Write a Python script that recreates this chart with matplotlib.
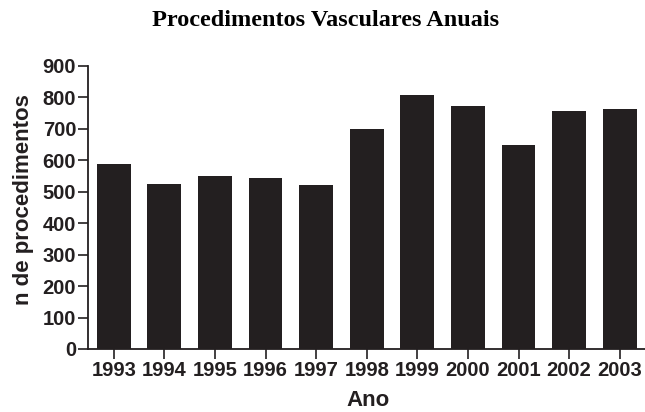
import matplotlib.pyplot as plt

anos = ["1993", "1994", "1995", "1996", "1997", "1998", "1999", "2000", "2001", "2002", "2003"]
procedimentos = [589, 524, 549, 543, 520, 701, 807, 773, 649, 757, 762]

fig = plt.figure(figsize=(6.45, 4.12), dpi=100)
# eixo y em x=88px, eixo x em y=349px, topo (900) em y=66px
ax = fig.add_axes([88 / 645, 1 - 349 / 412, 1 - 88 / 645, 283 / 412])

ax.bar(range(len(anos)), procedimentos, width=0.67, color="#231f20")

ax.set_xlim(-0.508, 10.5)
ax.set_ylim(0, 900)
ax.set_yticks(range(0, 901, 100))
ax.set_xticks(range(len(anos)))
ax.set_xticklabels(anos)

for s in ["top", "right"]:
    ax.spines[s].set_visible(False)
for s in ["left", "bottom"]:
    ax.spines[s].set_linewidth(1.3)
    ax.spines[s].set_color("#231f20")

ax.tick_params(axis="both", direction="out", length=7, width=1.2, color="#231f20")
ax.tick_params(axis="x", pad=2)
ax.tick_params(axis="y", pad=1.5)
for lab in ax.get_xticklabels() + ax.get_yticklabels():
    lab.set_family("Liberation Sans")
    lab.set_fontweight("bold")
    lab.set_fontsize(14.5)
    lab.set_color("#231f20")

ax.set_xlabel("Ano", family="Liberation Sans", fontweight="bold", fontsize=16, color="#231f20", va="baseline")
ax.xaxis.set_label_coords(0.503, -0.202)
ax.set_ylabel("n de procedimentos", family="Liberation Sans", fontweight="bold", fontsize=16, color="#231f20", va="center")
ax.yaxis.set_label_coords(-0.115, 0.527)

fig.text(0.504, 0.95, "Procedimentos Vasculares Anuais", family="Liberation Serif", fontweight="bold",
         fontsize=17.5, ha="center", va="center", color="#000000")

fig.savefig("out.png", dpi=100)
